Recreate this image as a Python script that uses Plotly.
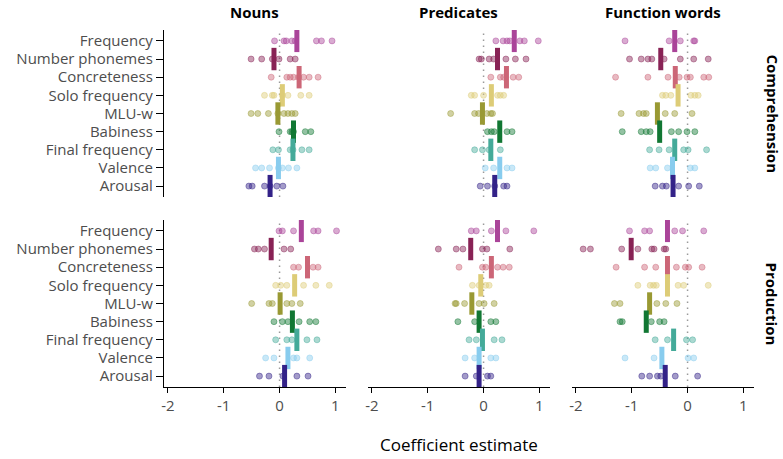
import plotly.graph_objects as go
from plotly.subplots import make_subplots

categories = ["Frequency", "Number phonemes", "Concreteness", "Solo frequency",
              "MLU-w", "Babiness", "Final frequency", "Valence", "Arousal"]
colors = ["#AA4499", "#882255", "#CC6677", "#DDCC77", "#999933",
          "#117733", "#44AA99", "#88CCEE", "#332288"]
lexical_classes = ["Nouns", "Predicates", "Function words"]
measures = ["Comprehension", "Production"]
x_tick_vals = [-2, -1, 0, 1]
x_tick_text = ["-2", "-1", "0", "1"]

# ---- Comprehension ----
nouns_comp_points = [
    [-0.09, 0.08, 0.12, 0.22, 0.28, 0.66, 0.75, 0.94],
    [-0.51, -0.32, -0.13, -0.01, 0.19, 0.28],
    [-0.15, 0.13, 0.19, 0.25, 0.34, 0.43, 0.53, 0.69],
    [-0.27, -0.13, -0.10, 0.05, 0.15, 0.38, 0.53],
    [-0.51, -0.39, -0.20, -0.03, 0.08, 0.15, 0.22, 0.28],
    [-0.01, 0.19, 0.22, 0.25, 0.46, 0.56],
    [-0.12, -0.02, 0.19, 0.24, 0.40, 0.53],
    [-0.43, -0.32, -0.18, -0.02, 0.05, 0.16, 0.31],
    [-0.55, -0.49, -0.27, -0.17, -0.05, 0.06],
]
nouns_comp_means = [0.31, -0.10, 0.35, 0.05, -0.03, 0.25, 0.24, -0.02, -0.17]

pred_comp_points = [
    [0.22, 0.35, 0.42, 0.47, 0.65, 0.73, 0.98],
    [-0.08, -0.04, 0.10, 0.18, 0.40, 0.57, 0.76],
    [0.13, 0.30, 0.36, 0.53, 0.63],
    [-0.22, -0.16, 0.0, 0.25, 0.30, 0.36],
    [-0.59, -0.16, -0.09, 0.06, 0.13, 0.16],
    [0.07, 0.14, 0.19, 0.42, 0.51],
    [-0.16, -0.02, 0.10, 0.30],
    [0.03, 0.18, 0.42, 0.51],
    [-0.06, 0.07, 0.20, 0.36, 0.42],
]
pred_comp_means = [0.55, 0.25, 0.41, 0.14, -0.02, 0.29, 0.13, 0.29, 0.20]

func_comp_points = [
    [-1.12, -0.33, -0.13, 0.11, 0.13],
    [-1.04, -0.83, -0.71, -0.64, -0.42, -0.13, 0.11, 0.37],
    [-1.29, -0.71, -0.35, -0.15, -0.01, 0.05, 0.29, 0.38],
    [-0.45, -0.39, -0.30, 0.06, 0.13, 0.19],
    [-1.19, -0.87, -0.79, -0.74, -0.40, -0.23, 0.08],
    [-1.17, -0.83, -0.74, -0.67, -0.29, -0.16, -0.01, 0.13],
    [-0.68, -0.51, -0.33, -0.07, 0.01, 0.34],
    [-0.67, -0.57, -0.36, 0.05, 0.13],
    [-0.58, -0.45, -0.38, -0.16, 0.02, 0.21],
]
func_comp_means = [-0.23, -0.48, -0.22, -0.17, -0.54, -0.50, -0.23, -0.27, -0.26]

# ---- Production ----
nouns_prod_points = [
    [-0.01, 0.05, 0.25, 0.61, 0.69, 1.02],
    [-0.45, -0.38, -0.27, 0.08, 0.20],
    [0.25, 0.34, 0.60, 0.69],
    [-0.07, 0.02, 0.13, 0.43, 0.65, 0.89],
    [-0.50, -0.19, -0.13, 0.13, 0.22, 0.37],
    [-0.10, 0.05, 0.15, 0.35, 0.54, 0.65],
    [-0.07, 0.13, 0.22, 0.49, 0.67],
    [-0.25, -0.10, 0.25, 0.31, 0.54],
    [-0.36, -0.19, 0.06, 0.31, 0.51],
]
nouns_prod_means = [0.39, -0.15, 0.50, 0.27, 0.01, 0.23, 0.31, 0.15, 0.09]

pred_prod_points = [
    [-0.22, -0.13, 0.14, 0.40, 0.90],
    [-0.81, -0.49, -0.37, -0.02, 0.06, 0.47],
    [-0.44, -0.02, 0.04, 0.25, 0.35, 0.46],
    [-0.20, -0.08, 0.04, 0.10],
    [-0.51, -0.49, -0.34, -0.08, 0.01, 0.19],
    [-0.46, -0.16, 0.13, 0.22],
    [-0.26, -0.13, 0.19, 0.33],
    [-0.33, -0.16, 0.13, 0.22],
    [-0.33, -0.13, 0.07, 0.13],
]
pred_prod_means = [0.25, -0.23, 0.14, -0.05, -0.21, -0.08, -0.02, -0.08, -0.08]

func_prod_points = [
    [-1.04, -0.77, -0.68, -0.23, -0.09, 0.29],
    [-1.87, -1.74, -1.18, -0.89, -0.64, -0.60, -0.42, -0.39],
    [-1.28, -0.77, -0.57, -0.20, -0.04, 0.02, 0.26],
    [-0.89, -0.67, -0.61, -0.56, -0.17, -0.07, 0.37],
    [-1.31, -1.21, -0.55, -0.39, -0.19],
    [-1.21, -1.17, -0.65, -0.50, -0.42],
    [-0.58, -0.36, -0.02, 0.09],
    [-1.12, -0.60, 0.01, 0.11],
    [-0.82, -0.68, -0.54, -0.48, -0.22, 0.18],
]
func_prod_means = [-0.36, -1.01, -0.36, -0.36, -0.68, -0.74, -0.25, -0.46, -0.40]

panels = [
    [(nouns_comp_points, nouns_comp_means), (pred_comp_points, pred_comp_means),
     (func_comp_points, func_comp_means)],
    [(nouns_prod_points, nouns_prod_means), (pred_prod_points, pred_prod_means),
     (func_prod_points, func_prod_means)],
]

W, H = 783, 459
FONT = "Open Sans"


def rgba(hexc, a):
    h = hexc.lstrip("#")
    return "rgba(%d,%d,%d,%.2f)" % (int(h[0:2], 16), int(h[2:4], 16), int(h[4:6], 16), a)


fig = make_subplots(rows=2, cols=3, horizontal_spacing=0.02, vertical_spacing=0.05)

for r in range(2):
    for c in range(3):
        pts, means = panels[r][c]
        for i, cat in enumerate(categories):
            fig.add_trace(go.Scatter(
                x=pts[i], y=[cat] * len(pts[i]), mode="markers",
                marker=dict(size=6, color=rgba(colors[i], 0.45),
                            line=dict(width=0.8, color=rgba(colors[i], 0.55))),
                showlegend=False, hoverinfo="x+y"), row=r + 1, col=c + 1)
        for i, cat in enumerate(categories):
            fig.add_trace(go.Scatter(
                x=[means[i]], y=[cat], mode="markers",
                marker=dict(symbol="line-ns", size=16,
                            line=dict(width=5, color=colors[i]), color=colors[i]),
                showlegend=False, hoverinfo="x+y"), row=r + 1, col=c + 1)

x_dom = [(164 / W, 346 / W), (368 / W, 550 / W), (572 / W, 754 / W)]
y_dom = [(1 - 197 / H, 1 - 30 / H), (1 - 387 / H, 1 - 220 / H)]

cat_order = list(reversed(categories))
for r in range(2):
    for c in range(3):
        idx = r * 3 + c + 1
        xa = "xaxis" if idx == 1 else "xaxis%d" % idx
        ya = "yaxis" if idx == 1 else "yaxis%d" % idx
        bottom = (r == 1)
        left = (c == 0)
        fig.layout[xa].update(
            domain=list(x_dom[c]), range=[-2.07, 1.19],
            showgrid=False, zeroline=False,
            showline=bottom, linecolor="black", linewidth=1.3,
            ticks="outside" if bottom else "", ticklen=5, tickwidth=1.3, tickcolor="black",
            tickmode="array", tickvals=x_tick_vals, ticktext=x_tick_text,
            showticklabels=bottom,
            tickfont=dict(family=FONT, size=15, color="#4d4d4d"))
        fig.layout[ya].update(
            domain=list(y_dom[r]), type="category",
            categoryorder="array", categoryarray=cat_order,
            range=[-0.6, 8.6],
            tickmode="array", tickvals=categories, ticktext=categories,
            showgrid=False, zeroline=False,
            showline=left, linecolor="black", linewidth=1.3,
            ticks="outside" if left else "", ticklen=7, tickwidth=1.3, tickcolor="black",
            showticklabels=left,
            tickfont=dict(family=FONT, size=15, color="#4d4d4d"))
        fig.add_shape(type="line", xref="x%s" % ("" if idx == 1 else idx),
                      yref="y%s domain" % ("" if idx == 1 else idx),
                      x0=0, x1=0, y0=0, y1=1, layer="below",
                      line=dict(color="#9a9a9a", width=1.5, dash="1.5px,4.5px"))

annotations = []
for c, name in enumerate(lexical_classes):
    annotations.append(dict(text="<b>%s</b>" % name, x=(x_dom[c][0] + x_dom[c][1]) / 2,
                            y=1 - 12 / H, xref="paper", yref="paper", showarrow=False,
                            xanchor="center", yanchor="middle",
                            font=dict(family=FONT, size=15, color="black")))
for r, name in enumerate(measures):
    annotations.append(dict(text="<b>%s</b>" % name, x=772 / W,
                            y=(y_dom[r][0] + y_dom[r][1]) / 2,
                            xref="paper", yref="paper", showarrow=False, textangle=90,
                            xanchor="center", yanchor="middle",
                            font=dict(family=FONT, size=15, color="black")))
annotations.append(dict(text="Coefficient estimate", x=459 / W, y=1 - 444 / H,
                        xref="paper", yref="paper", showarrow=False,
                        xanchor="center", yanchor="middle",
                        font=dict(family=FONT, size=17, color="black")))

fig.update_layout(width=W, height=H, margin=dict(l=0, r=0, t=0, b=0, autoexpand=False),
                  plot_bgcolor="white", paper_bgcolor="white",
                  annotations=annotations, showlegend=False,
                  font=dict(family=FONT))

fig.write_html("out.html", config={"displayModeBar": False},
               post_script="document.body.style.margin='0';document.body.style.overflow='hidden';")
